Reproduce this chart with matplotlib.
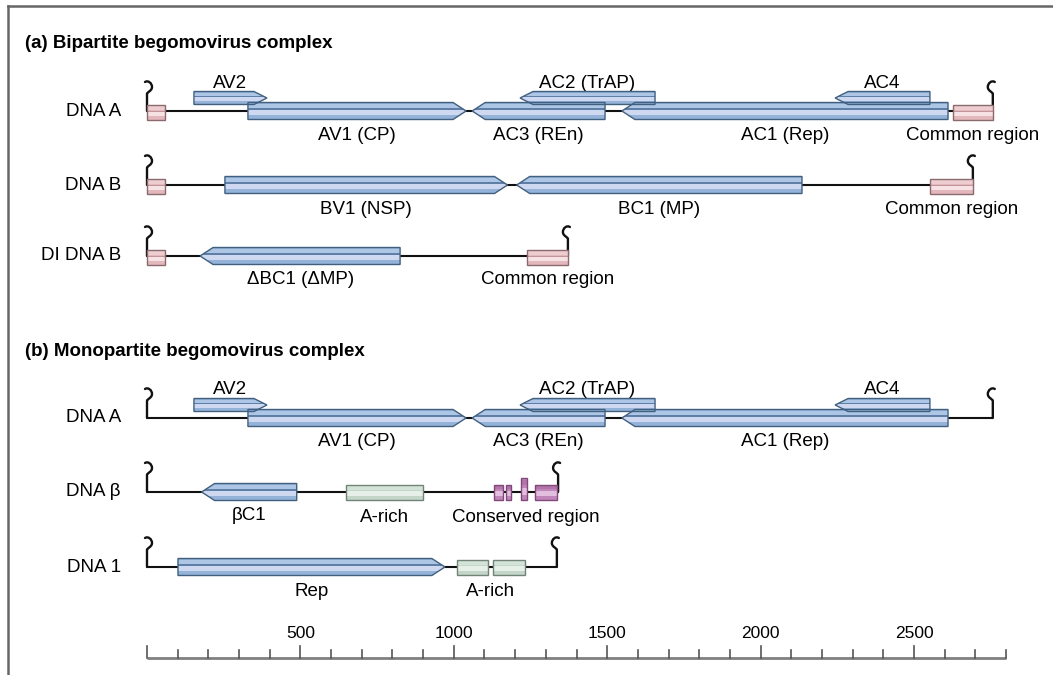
## Genome maps of the bipartite and monopartite begomovirus complexes
## drawn on a common nucleotide scale

import matplotlib
matplotlib.use("Agg")
import matplotlib.pyplot as plt
from matplotlib.patches import Polygon, Rectangle, PathPatch
from matplotlib.path import Path
from matplotlib.lines import Line2D
import numpy as np

plt.rcParams['font.family'] = ['Liberation Sans', 'DejaVu Sans']

## molecule lengths (nt)
LEN_A = 2757
LEN_B = 2692
LEN_DI_B = 1372
LEN_BETA = 1340
LEN_1 = 1336
SCALE_END = 2800

## genes: label, start, end, strand, track
GENES_A = [
    ("AV2", 153, 391, +1, "up"),
    ("AV1 (CP)", 329, 1040, +1, "main"),
    ("AC3 (REn)", 1060, 1493, -1, "main"),
    ("AC2 (TrAP)", 1216, 1656, -1, "up"),
    ("AC1 (Rep)", 1548, 2611, -1, "main"),
    ("AC4", 2243, 2552, -1, "up"),
]
GENES_B = [
    ("BV1 (NSP)", 254, 1175, +1, "main"),
    ("BC1 (MP)", 1205, 2135, -1, "main"),
]
GENES_DI_B = [("\u0394BC1 (\u0394MP)", 173, 825, -1, "main")]
GENES_BETA = [("\u03b2C1", 178, 488, -1, "main")]
GENES_1 = [("Rep", 101, 971, +1, "main")]

## common region pieces (both ends of the circle)
CR_A = [(0, 59), (2627, 2757)]
CR_B = [(0, 59), (2552, 2692)]
CR_DI_B = [(0, 59), (1239, 1372)]

## other elements
ARICH_BETA = [(649, 900)]
ARICH_1 = [(1010, 1111), (1128, 1232)]
CONS_BETA = [(1131, 1160), (1170, 1186), (1219, 1239), (1265, 1336)]
CONS_TALL = [False, False, True, False]

## layout (pixels) -- x is in nt, y in pixels from the top
W, H = 1053, 675
X0_PX, X_END_PX = 147, 1006
S = (X_END_PX - X0_PX) / SCALE_END      # px per nt
PX = 1.0 / S                             # nt per px

fig = plt.figure(figsize=(W / 100, H / 100), dpi=100)
ax = fig.add_axes([0, 0, 1, 1])
ax.set_xlim(-X0_PX * PX, (W - X0_PX) * PX)
ax.set_ylim(H, 0)
ax.set_axis_off()

BLUE = dict(base='#95b2d8', edge='#41607f',
            bands=[(0.08, 0.32, '#adc6e6'), (0.34, 0.42, '#5f7fa6'), (0.44, 0.72, '#cfd8f1')])
PINK = dict(base='#e3b8bd', edge='#8a6a6e',
            bands=[(0.1, 0.35, '#edcdd0'), (0.40, 0.47, '#c39499'), (0.50, 0.76, '#f6e2e4')])
GREEN = dict(base='#c4d6c9', edge='#718477',
             bands=[(0.1, 0.35, '#d4e3d8'), (0.45, 0.76, '#e6efe8')])
PURPLE = dict(base='#c086ba', edge='#80497a',
              bands=[(0.1, 0.3, '#b274aa'), (0.45, 0.76, '#e3bfdf')])
FS = 13.5


def striped(verts, y_top, y_bot, style, z=3):
    poly = Polygon(verts, closed=True, fc=style['base'], ec='none', zorder=z)
    ax.add_patch(poly)
    xs = [v[0] for v in verts]
    h = y_bot - y_top
    for f0, f1, c in style['bands']:
        r = Rectangle((min(xs), y_top + f0 * h), max(xs) - min(xs), (f1 - f0) * h,
                      fc=c, ec='none', zorder=z + 0.1)
        ax.add_patch(r)
        r.set_clip_path(poly)
    ax.add_patch(Polygon(verts, closed=True, fill=False, ec=style['edge'], lw=1.0, zorder=z + 0.2))


def box(x0, x1, yc, h, style):
    verts = [(x0, yc - h / 2), (x1, yc - h / 2), (x1, yc + h / 2), (x0, yc + h / 2)]
    striped(verts, yc - h / 2, yc + h / 2, style)


def gene(x0, x1, strand, yc, h):
    head = 13 * PX
    t, b = yc - h / 2, yc + h / 2
    if strand > 0:
        verts = [(x0, t), (x1 - head, t), (x1, yc), (x1 - head, b), (x0, b)]
    else:
        verts = [(x1, t), (x0 + head, t), (x0, yc), (x0 + head, b), (x1, b)]
    striped(verts, t, b, BLUE)


def hook(x0, y0, d):
    ## d = +1 on the left end, -1 on the right end; curl bends inwards
    pts = [(0, 0), (0, 17), (0, 19), (5, 20), (5, 24), (5, 28), (1, 31), (-2, 29)]
    codes = [Path.MOVETO, Path.LINETO] + [Path.CURVE4] * 6
    verts = [(x0 + d * dx * PX, y0 - dy) for dx, dy in pts]
    ax.add_patch(PathPatch(Path(verts, codes), fill=False, ec='#111111', lw=1.7,
                           capstyle='round', zorder=2))


def molecule(name, y, length, genes, crs=(), cr_label=True):
    fig.text(121 / W, 1 - y / H, name, ha='right', va='center', fontsize=FS)
    ax.plot([0, length], [y, y], color='#111111', lw=1.5, zorder=1, solid_capstyle='butt')
    hook(0, y, +1)
    hook(length, y, -1)
    for label, g0, g1, strand, track in genes:
        if track == "up":
            gene(g0, g1, strand, y - 13, 13)
            ax.text((g0 + g1) / 2, y - 28, label, ha='center', va='center', fontsize=FS)
        else:
            gene(g0, g1, strand, y, 17)
            ax.text((g0 + g1) / 2, y + 24, label, ha='center', va='center', fontsize=FS)
    for c0, c1 in crs:
        box(c0, c1, y + 1, 15, PINK)
    if crs and cr_label:
        c0, c1 = crs[-1]
        ax.text((c0 + c1) / 2, y + 24, "Common region", ha='center', va='center', fontsize=FS)


## (a) bipartite
fig.text(25 / W, 1 - 44 / H, "(a) Bipartite begomovirus complex", ha='left', va='center',
         fontsize=FS, fontweight='bold')
molecule("DNA A", 111, LEN_A, GENES_A, CR_A)
molecule("DNA B", 185, LEN_B, GENES_B, CR_B)
molecule("DI DNA B", 256, LEN_DI_B, GENES_DI_B, CR_DI_B)

## (b) monopartite
fig.text(25 / W, 1 - 352 / H, "(b) Monopartite begomovirus complex", ha='left', va='center',
         fontsize=FS, fontweight='bold')
molecule("DNA A", 418, LEN_A, GENES_A)

y_beta = 492
molecule("DNA \u03b2", y_beta, LEN_BETA, GENES_BETA)
for a0, a1 in ARICH_BETA:
    box(a0, a1, y_beta, 15, GREEN)
    ax.text((a0 + a1) / 2, y_beta + 25, "A-rich", ha='center', va='center', fontsize=FS)
for (c0, c1), tall in zip(CONS_BETA, CONS_TALL):
    if tall:
        box(c0, c1, y_beta - 3, 22, PURPLE)
    else:
        box(c0, c1, y_beta, 15, PURPLE)
ax.text((CONS_BETA[0][0] + CONS_BETA[-1][1]) / 2, y_beta + 25, "Conserved region",
        ha='center', va='center', fontsize=FS)

y_one = 567
molecule("DNA 1", y_one, LEN_1, GENES_1)
for a0, a1 in ARICH_1:
    box(a0, a1, y_one, 15, GREEN)
ax.text((ARICH_1[0][0] + ARICH_1[-1][1]) / 2, y_one + 25, "A-rich", ha='center', va='center',
        fontsize=FS)

## nucleotide scale
y_ax = 658
ax.plot([0, SCALE_END], [y_ax, y_ax], color='#808080', lw=2, zorder=1, solid_capstyle='butt')
for t in np.arange(0, SCALE_END + 1, 100):
    tl = 12 if t % 500 == 0 else 8
    ax.plot([t, t], [y_ax, y_ax - tl], color='#555555', lw=1.2, zorder=1)
for t in np.arange(500, SCALE_END, 500):
    ax.text(t, 633, str(t), ha='center', va='center', fontsize=12.5)

## frame on the left and top
fig.add_artist(Line2D([8 / W, 8 / W], [0, 1 - 6 / H], color='#666666', lw=1.8))
fig.add_artist(Line2D([8 / W, 1], [1 - 6 / H, 1 - 6 / H], color='#666666', lw=1.8))

fig.savefig("out.png", dpi=100)
